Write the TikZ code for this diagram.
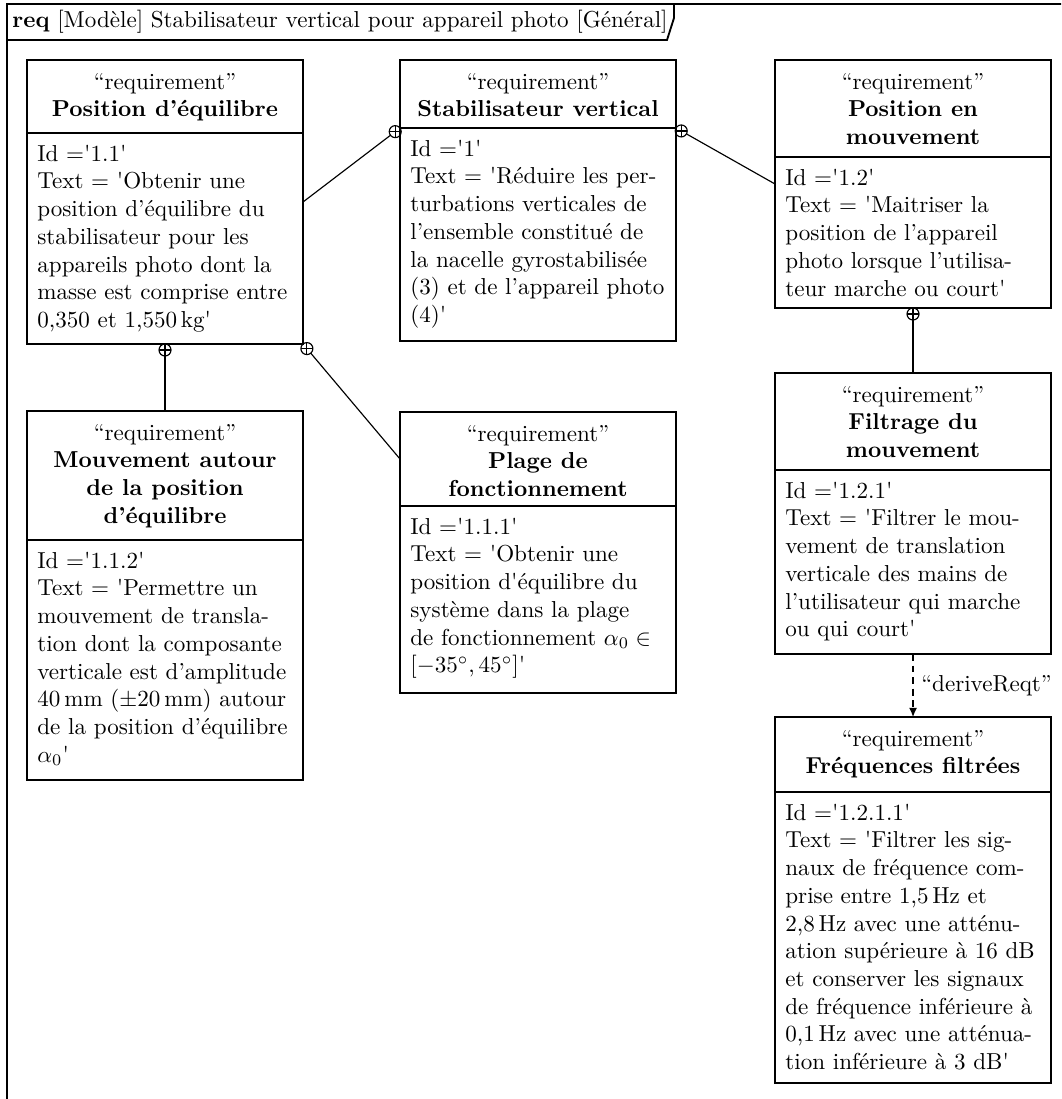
\documentclass[tikz,border=0pt]{standalone}
\usetikzlibrary{arrows.meta,calc}
\newcommand{\sq}{\textquotesingle}
\tikzset{
  boxstyle/.style={draw, line width=0.8pt, inner sep=0pt, outer sep=0pt, rectangle},
  sepline/.style={line width=0.8pt},
  framestyle/.style={line width=0.8pt},
  headstyle/.style={align=center, inner xsep=0pt, inner ysep=5.5pt},
  bodystyle/.style={align=left, inner xsep=4.3pt, inner ysep=5pt},
  conn/.style={line width=0.5pt},
}
\newcommand{\ReqBox}[7]{%
  \node[boxstyle, minimum width=119.6pt, minimum height={(#5-#3)*0.4333pt}, anchor=north west] (#1) at (#2,#3) {};
  \coordinate (#1-sl) at (#2,#4);
  \coordinate (#1-sr) at ({#2+276},#4);
  \coordinate (#1-hw) at (#2,{(#3+#4)/2});
  \draw[sepline] (#1-sl) -- (#1-sr);
  \node[headstyle, anchor=north] (#1-h) at ({#2+138},#3) {#6};
  \node[bodystyle, anchor=north west] (#1-b) at (#2,#4) {#7};
}
\newcommand{\Contain}[2]{%
  \draw[conn] ($(#1)!2.6pt!(#2)$) circle (2.6pt);
  \draw[conn] ($(#1)!2.6pt!(#2)$) ++(-2.6pt,0pt) -- ++(5.2pt,0pt);
  \draw[conn] ($(#1)!2.6pt!(#2)$) ++(0pt,-2.6pt) -- ++(0pt,5.2pt);
  \draw[conn] ($(#1)!5.2pt!(#2)$) -- (#2);
}
\begin{document}
\begin{tikzpicture}[x=0.4333pt,y=-0.4333pt]
\useasboundingbox (0,0) rectangle (1061,1099);
\clip (0,0) rectangle (1061,1099);
% frame
\draw[framestyle] (7,1130) -- (7,4) -- (1090,4);
\draw[framestyle] (7,40) -- (667,40) -- (674,18) -- (674,4);
\node[anchor=base west, inner sep=0pt] (title) at (12,28) {\textbf{req} [Modèle] Stabilisateur vertical pour appareil photo [Général]};

\ReqBox{A}{27}{60}{133}{344}{“requirement”\\\textbf{Position d’équilibre}}{Id =\sq1.1\sq\\Text = \sq Obtenir une\\position d’équilibre du\\stabilisateur pour les\\appareils photo dont la\\masse est comprise entre\\0,350 et 1,550\,kg\sq}

\ReqBox{B}{400}{60}{128}{341}{“requirement”\\\textbf{Stabilisateur vertical}}{Id =\sq1\sq\\Text = \sq Réduire les per-\\turbations verticales de\\l’ensemble constitué de\\la nacelle gyrostabilisée\\(3) et de l’appareil photo\\(4)\sq}

\ReqBox{C}{775}{60}{157}{308}{“requirement”\\\textbf{Position en}\\\textbf{mouvement}}{Id =\sq1.2\sq\\Text = \sq Maitriser la\\position de l’appareil\\photo lorsque l’utilisa-\\teur marche ou court\sq}

\ReqBox{D}{27}{411}{540}{780}{“requirement”\\\textbf{Mouvement autour}\\\textbf{de la position}\\\textbf{d’équilibre}}{Id =\sq1.1.2\sq\\Text = \sq Permettre un\\mouvement de transla-\\tion dont la composante\\verticale est d’amplitude\\40\,mm ($\pm$20\,mm) autour\\de la position d’équilibre\\$\alpha_0$\sq}

\ReqBox{E}{400}{412}{506}{693}{“requirement”\\\textbf{Plage de}\\\textbf{fonctionnement}}{Id =\sq1.1.1\sq\\Text = \sq Obtenir une\\position d\sq équilibre du\\système dans la plage\\de fonctionnement $\alpha_0\in$\\$[-35^\circ, 45^\circ]$\sq}

\ReqBox{F}{775}{373}{470}{654}{“requirement”\\\textbf{Filtrage du}\\\textbf{mouvement}}{Id =\sq1.2.1\sq\\Text = \sq Filtrer le mou-\\vement de translation\\verticale des mains de\\l’utilisateur qui marche\\ou qui court\sq}

\ReqBox{G}{775}{717}{792}{1083}{“requirement”\\\textbf{Fréquences filtrées}}{Id =\sq1.2.1.1\sq\\Text = \sq Filtrer les sig-\\naux de fréquence com-\\prise entre 1,5\,Hz et\\2,8\,Hz avec une atténu-\\ation supérieure à 16 dB\\et conserver les signaux\\de fréquence inférieure à\\0,1\,Hz avec une atténua-\\tion inférieure à 3 dB\sq}

% containment connectors
\Contain{B-sl}{A.east}
\Contain{B-sr}{C.west}
\Contain{A.south}{D.north}
\Contain{A.south east}{E-hw}
\Contain{C.south}{F.north}

% derive
\draw[conn, dash pattern=on 3pt off 2pt, -{Latex[length=4pt,width=3.5pt]}] (F.south) -- node[right] (dr) {“deriveReqt”} (G.north);
\end{tikzpicture}
\end{document}
